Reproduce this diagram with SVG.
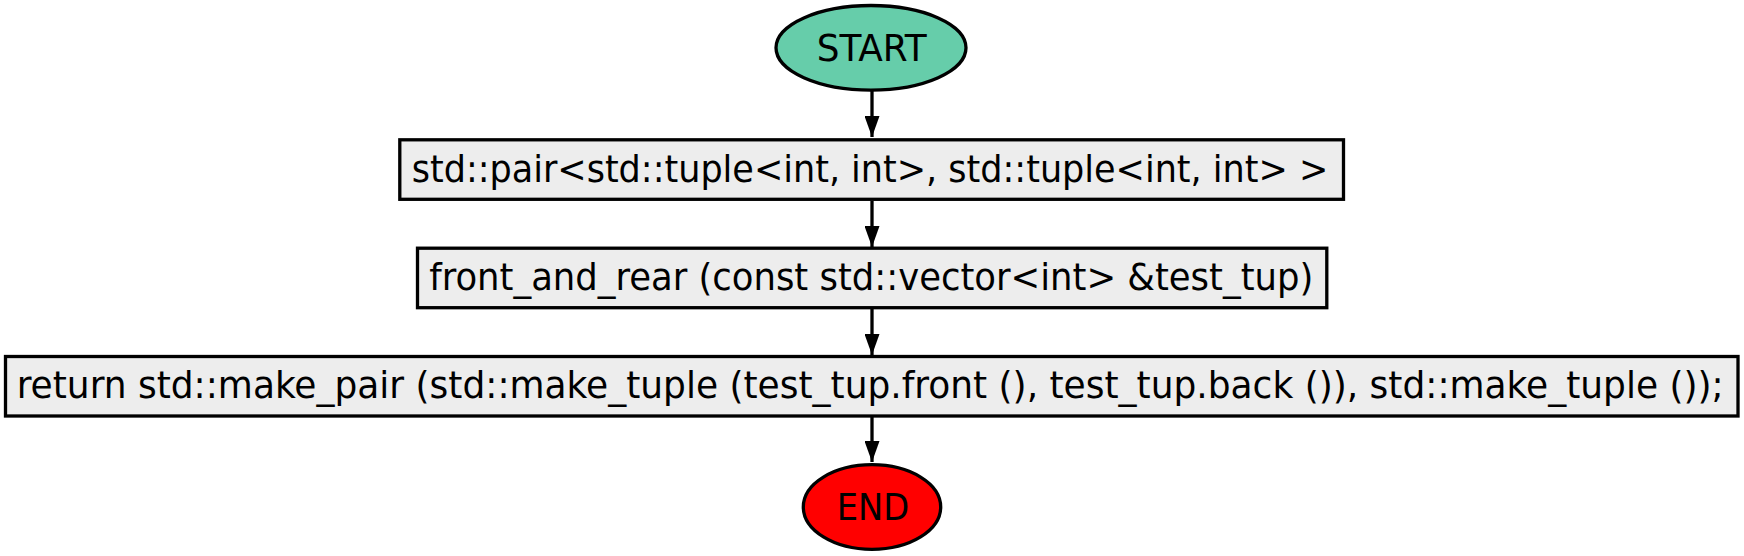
<svg xmlns="http://www.w3.org/2000/svg" width="1744" height="556" viewBox="0 0 1744 556">
<style>
  .lbl { font-family: "DejaVu Sans Condensed", "Liberation Sans", sans-serif; font-size: 38px; fill: #000; }
  .box { fill: #ededed; stroke: #000; stroke-width: 3.3; }
  .edge { stroke: #000; stroke-width: 3.3; fill: none; }
</style>
<defs>
  <marker id="arr" markerUnits="userSpaceOnUse" markerWidth="21" markerHeight="15" refX="21" refY="7.5" orient="auto" viewBox="0 0 21 15">
    <path d="M0,0 L21,7.5 L0,15 Z" fill="#000"/>
  </marker>
</defs>
<rect width="1744" height="556" fill="#fff"/>
<g id="connectors">
  <line class="edge" x1="872" y1="91" x2="872" y2="137" marker-end="url(#arr)"/>
  <line class="edge" x1="872" y1="201" x2="872" y2="247" marker-end="url(#arr)"/>
  <line class="edge" x1="872" y1="309" x2="872" y2="355" marker-end="url(#arr)"/>
  <line class="edge" x1="872" y1="417" x2="872" y2="462" marker-end="url(#arr)"/>
</g>
<g id="start">
  <ellipse cx="871" cy="47.8" rx="95" ry="42.3" fill="#66cdaa" stroke="#000" stroke-width="3.3"/>
  <text class="lbl" x="816.7" y="61" textLength="110" lengthAdjust="spacingAndGlyphs">START</text>
</g>
<g id="sig">
  <rect class="box" x="399.8" y="139.8" width="943.7" height="59.5"/>
  <text class="lbl" x="411.7" y="181.7" textLength="916.6" lengthAdjust="spacingAndGlyphs">std::pair&lt;std::tuple&lt;int, int&gt;, std::tuple&lt;int, int&gt; &gt;</text>
</g>
<g id="func">
  <rect class="box" x="417.5" y="248.2" width="909.3" height="59.5"/>
  <text class="lbl" x="429.3" y="289.5" textLength="884" lengthAdjust="spacingAndGlyphs">front_and_rear (const std::vector&lt;int&gt; &amp;test_tup)</text>
</g>
<g id="ret">
  <rect class="box" x="5.5" y="356.5" width="1732.5" height="59.5"/>
  <text class="lbl" x="16.7" y="398.3" textLength="1707" lengthAdjust="spacingAndGlyphs">return std::make_pair (std::make_tuple (test_tup.front (), test_tup.back ()), std::make_tuple ());</text>
</g>
<g id="end">
  <ellipse cx="872" cy="507" rx="68.7" ry="42.3" fill="#ff0000" stroke="#000" stroke-width="3.3"/>
  <text class="lbl" x="836.7" y="520" textLength="72.6" lengthAdjust="spacingAndGlyphs">END</text>
</g>
</svg>
